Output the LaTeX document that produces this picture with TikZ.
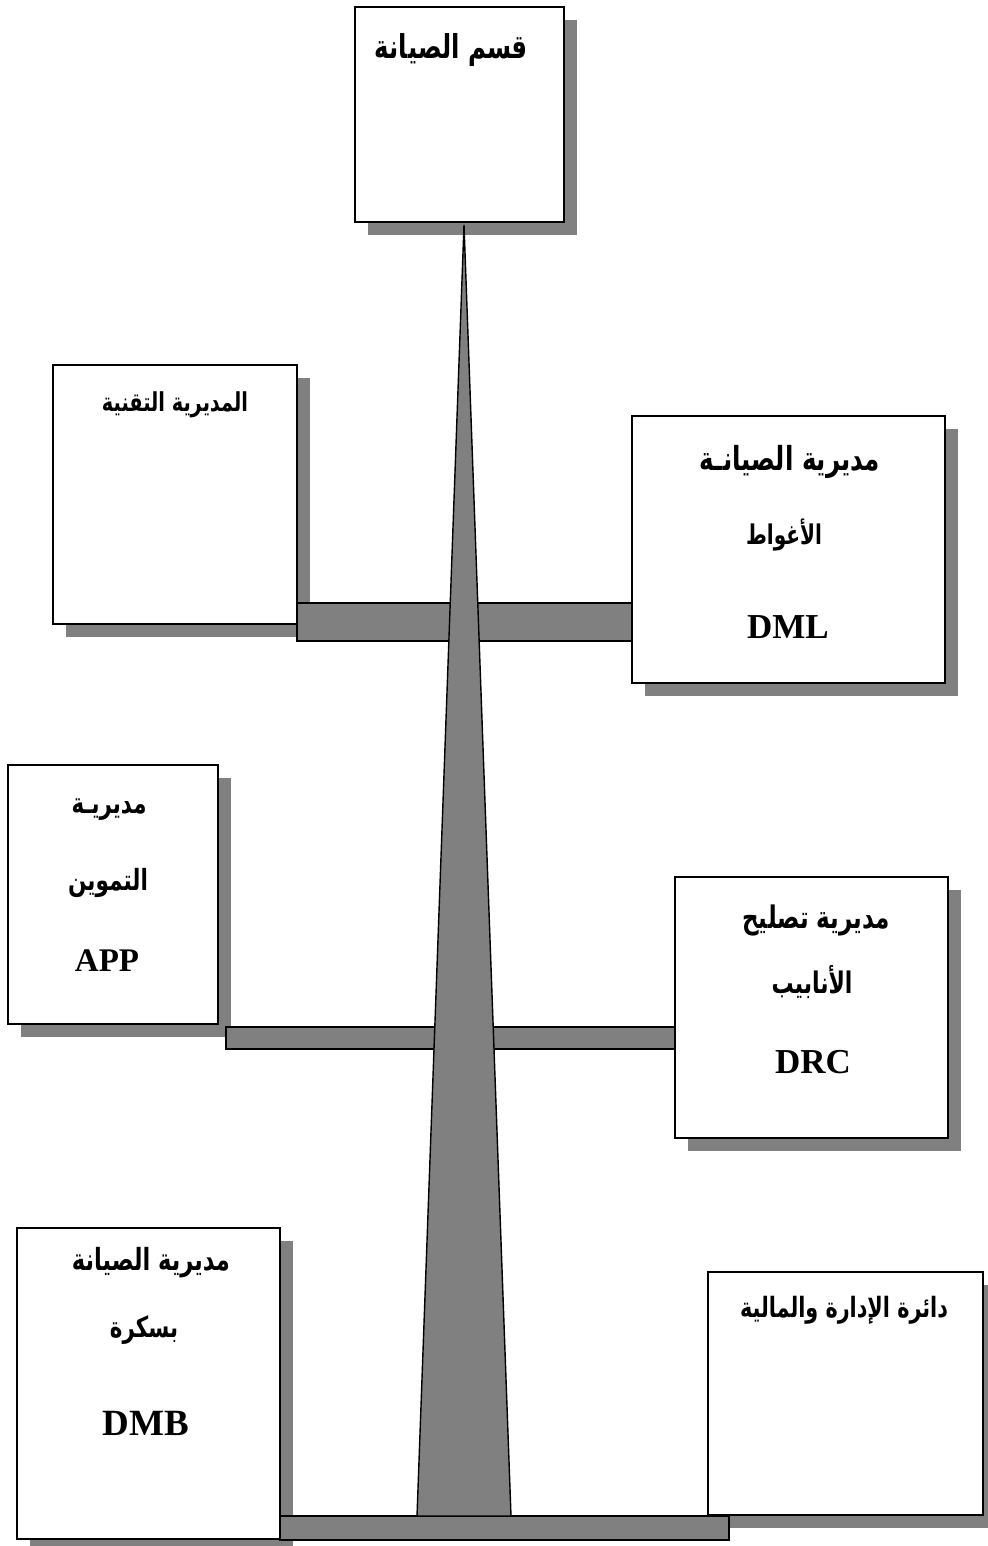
\documentclass[tikz,border=0pt]{standalone}
\usepackage{fontspec}
\usepackage{graphicx}
\setmainfont{Liberation Serif}
\newfontfamily\arabicfont[Script=Arabic]{DejaVu Sans}
\TeXXeTstate=1
\definecolor{shadowgray}{HTML}{808080}
\pgfdeclarelayer{shadowlayer}
\pgfdeclarelayer{barlayer}
\pgfsetlayers{shadowlayer,barlayer,main}
\newcommand\artext[2]{\resizebox{#1pt}{!}{\scalebox{1}[1.35]{\arabicfont\bfseries #2}}}
\begin{document}
\begin{tikzpicture}[x=1pt,y=-1pt,
  box/.style={rectangle,draw=black,line width=1.8pt,fill=white,inner sep=0pt,outer sep=0pt},
  barshape/.style={fill=shadowgray,draw=black,line width=1.4pt,line join=miter},
  shade/.style={fill=shadowgray},
  lbl/.style={inner sep=0pt,outer sep=0pt,anchor=center},
  latin/.style={lbl,font=\bfseries\fontsize{#1}{#1}\selectfont}]
\useasboundingbox (0,0) rectangle (987,1546);
\clip (0,0) rectangle (987,1546);
% boxes
\node[box,minimum width=209pt,minimum height=215pt] (top)  at (459.5,114.5) {};
\node[box,minimum width=244pt,minimum height=259pt] (tech) at (175,494.5) {};
\node[box,minimum width=313pt,minimum height=267pt] (dml)  at (788.5,549.5) {};
\node[box,minimum width=210pt,minimum height=259pt] (app)  at (113,894.5) {};
\node[box,minimum width=273pt,minimum height=261pt] (drc)  at (811.5,1007.5) {};
\node[box,minimum width=263pt,minimum height=311pt] (dmb)  at (148.5,1383.5) {};
\node[box,minimum width=275pt,minimum height=243pt] (daf)  at (845.5,1393.5) {};
% shadows
\begin{pgfonlayer}{shadowlayer}
\foreach \n in {top,tech,dml,app,drc,dmb,daf}
  \fill[shade] ([shift={(13,13)}]\n.north west) rectangle ([shift={(13,13)}]\n.south east);
\end{pgfonlayer}
% bars and spike
\coordinate (b1t) at (0,603);
\coordinate (b1b) at (0,641);
\coordinate (b2l) at (226,1027);
\coordinate (b2b) at (0,1049);
\coordinate (b3t) at (0,1516);
\coordinate (b3r) at (729,1540);
\coordinate (apex) at ([shift={(4.5,3)}]top.south);
\coordinate (baseL) at (417,1516);
\coordinate (baseR) at (511,1516);
\begin{pgfonlayer}{barlayer}
\filldraw[barshape] (tech.east |- b1t) rectangle (dml.west |- b1b);
\filldraw[barshape] (b2l) rectangle (drc.west |- b2b);
\filldraw[barshape] (dmb.east |- b3t) rectangle (b3r);
\filldraw[barshape] (apex) -- (baseR) -- (baseL) -- cycle;
\end{pgfonlayer}
% labels
\node[lbl] (t1)  at (451.5,50) {\artext{153}{\beginR قسم الصيانة\endR}};
\node[lbl] (t2)  at (175,405)  {\artext{146}{\beginR المديرية التقنية\endR}};
\node[lbl] (t3a) at (790,462)  {\artext{180}{\beginR مديرية الصيانـة\endR}};
\node[lbl] (t3b) at (784,535)  {\artext{76}{\beginR الأغواط\endR}};
\node[latin=35] (t3c) at (788,627) {DML};
\node[lbl] (t4a) at (109,810)  {\artext{75}{\beginR مديريـة\endR}};
\node[lbl] (t4b) at (108,883)  {\artext{80}{\beginR التموين\endR}};
\node[latin=33] (t4c) at (107,961) {APP};
\node[lbl] (t5a) at (816,920)  {\artext{148}{\beginR مديرية تصليح\endR}};
\node[lbl] (t5b) at (812,982)  {\artext{81}{\beginR الأنابيب\endR}};
\node[latin=35] (t5c) at (813,1062) {DRC};
\node[lbl] (t6a) at (151,1263) {\artext{158}{\beginR مديرية الصيانة\endR}};
\node[lbl] (t6b) at (144,1330) {\artext{68}{\beginR بسكرة\endR}};
\node[latin=37] (t6c) at (146,1423) {DMB};
\node[lbl] (t7)  at (844,1310) {\artext{208}{\beginR دائرة الإدارة والمالية\endR}};
\end{tikzpicture}
\end{document}
